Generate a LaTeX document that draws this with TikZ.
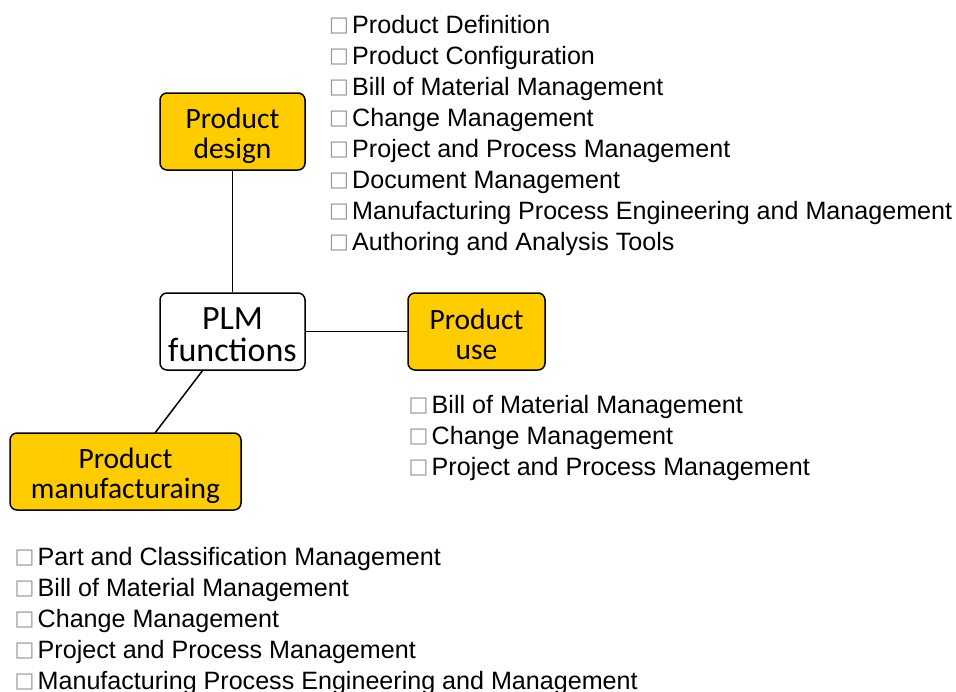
\documentclass[tikz,border=0pt]{standalone}
\usepackage{fontspec}
\setmainfont{Liberation Sans}
\newfontfamily\calfont{Carlito}
\newfontfamily\dvfont{DejaVu Sans}
\definecolor{boxyellow}{RGB}{255,204,0}
\definecolor{tofugray}{RGB}{150,150,150}
\newcommand{\tofu}{\makebox[23pt][l]{\raisebox{2pt}{\textcolor{tofugray}{\fontsize{21}{21}\dvfont\char"25A1}}}}
\begin{document}
\begin{tikzpicture}[x=1pt,y=-1pt,
  fbox/.style={draw, line width=1.5pt, rounded corners=7pt, fill=boxyellow,
    minimum height=77pt, inner sep=0pt},
  wbox/.style={fbox, fill=white},
  btext/.style={align=center, inner sep=0pt, font=\calfont\fontsize{29.5}{30}\selectfont},
  item/.style={anchor=base west, inner sep=0pt, font=\fontsize{25.1}{25}\selectfont},
  conn/.style={line width=1.5pt}]
\useasboundingbox (0,0) rectangle (956,691);

\node[fbox, minimum width=145pt] (design) at (232.5,131.5) {};
\node[btext] (designt) at ([yshift=-4pt]design.center) {Product\\design};
\node[wbox, minimum width=145pt] (plm) at (232.5,331.5) {};
\node[btext, font=\calfont\fontsize{34}{32}\selectfont] (plmt) at ([yshift=-3pt]plm.center) {PLM\\functions};
\node[fbox, minimum width=137pt] (use) at (476.5,331.5) {};
\node[btext] (uset) at ([yshift=-2.5pt]use.center) {Product\\use};
\node[fbox, minimum width=231pt] (manuf) at (125.5,471.5) {};
\node[btext] (manuft) at ([yshift=-4.5pt]manuf.center) {Product\\manufacturaing};

\draw[conn] (design) -- (plm);
\draw[conn] (plm) -- (use);
\draw[conn] (203,370) coordinate (pa) -- (155,433) coordinate (pb);

\foreach \t [count=\i from 0] in {Product Definition, Product Configuration, Bill of Material Management, Change Management, Project and Process Management, Document Management, Manufacturing Process Engineering and Management, Authoring and Analysis Tools}
  \node[item] (a\i) at (329, 33+31*\i) {\tofu\t};

\foreach \t [count=\i from 0] in {Bill of Material Management, Change Management, Project and Process Management}
  \node[item] (b\i) at (408.5, 413+31*\i) {\tofu\t};

\foreach \t [count=\i from 0] in {Part and Classification Management, Bill of Material Management, Change Management, Project and Process Management, Manufacturing Process Engineering and Management}
  \node[item] (c\i) at (14.5, 565+31*\i) {\tofu\t};
\end{tikzpicture}
\end{document}
